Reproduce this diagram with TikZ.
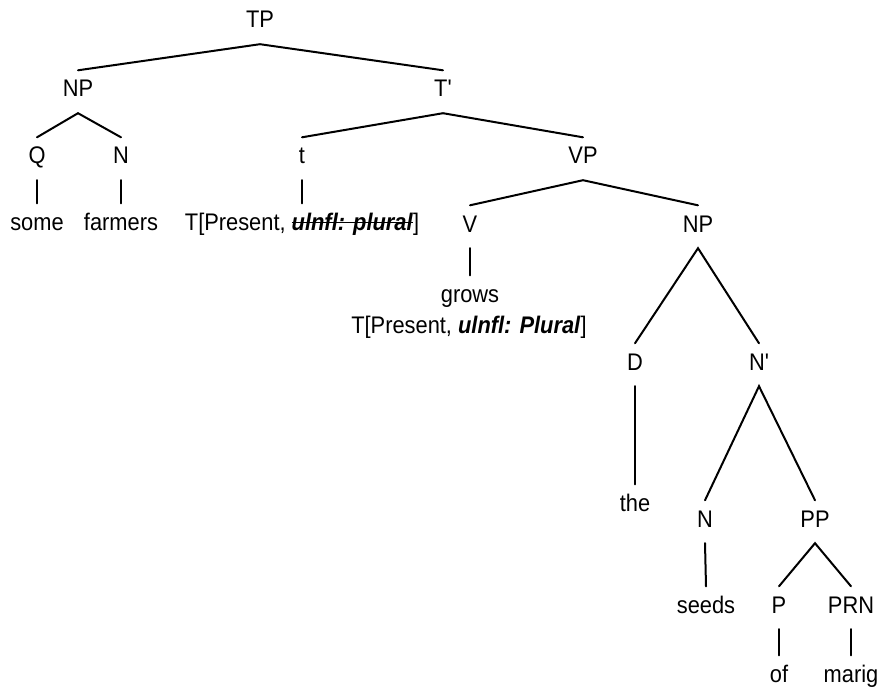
\documentclass[tikz,border=0pt]{standalone}
\usepackage{fontspec}
\setmainfont{Liberation Sans}[FakeStretch=0.91]
% same face without TeX ligature mapping, for a straight prime
\newfontfamily\primefont{Liberation Sans}[FakeStretch=0.91]
% strike-through of a piece of text
\newsavebox{\strikebox}
\newcommand{\strikeout}[1]{\sbox{\strikebox}{#1}%
  \rlap{\raisebox{0.28em}{\rule{\wd\strikebox}{1.6pt}}}\usebox{\strikebox}}
% straight prime for bar levels
\newcommand{\barmark}{{\primefont'}}
\begin{document}
\begin{tikzpicture}[x=1pt,y=-1pt,
  lab/.style={anchor=base, inner xsep=0pt, inner ysep=9pt,
    text height=17.5pt, text depth=7pt,
    font=\fontsize{24}{28}\selectfont},
  edge/.style={line width=2pt, line cap=round}]
\useasboundingbox (0,0) rectangle (884,690);
% constituent labels, placed by baseline
\node[lab] (tp)    at (260,28)  {TP};
\node[lab] (np1)   at (78,97)   {NP};
\node[lab] (tbar)  at (443,97)  {T\barmark};
\node[lab] (q)     at (37,164)  {Q};
\node[lab] (n1)    at (121,164) {N};
\node[lab] (t)     at (302,164) {t};
\node[lab] (vp)    at (583,164) {VP};
\node[lab] (some)  at (37,230)  {some};
\node[lab] (farm)  at (121,230) {farmers};
\node[lab] (tpl)   at (302,230) {T[Present, \strikeout{\textbf{\textit{ulnfl: plural}}}]};
\node[lab] (v)     at (470,232) {V};
\node[lab] (np2)   at (698,232) {NP};
\node[lab] (grows) at (470,302) {grows};
\node[lab] (tpr)   at (469,333) {T[Present, \textbf{\textit{ulnfl: Plural}}]};
\node[lab] (d)     at (635,370) {D};
\node[lab] (nbar)  at (759,370) {N\barmark};
\node[lab] (the)   at (635,511) {the};
\node[lab] (n3)    at (705,527) {N};
\node[lab] (pp)    at (815,527) {PP};
\node[lab] (seeds) at (706,613) {seeds};
\node[lab] (p)     at (779,613) {P};
\node[lab] (prn)   at (851,613) {PRN};
\node[lab] (of)    at (779,682) {of};
\node[lab] (marig) at (851,682) {marig};
% branches
\draw[edge] (np1.north) -- (tp.south) -- (tbar.north);
\draw[edge] (q.north) -- (np1.south) -- (n1.north);
\draw[edge] (t.north) -- (tbar.south) -- (vp.north);
\draw[edge] (v.north) -- (vp.south) -- (np2.north);
\draw[edge] (d.north) -- (np2.south) -- (nbar.north);
\draw[edge] (n3.north) -- (nbar.south) -- (pp.north);
\draw[edge] (p.north) -- (pp.south) -- (prn.north);
\draw[edge] (q.south) -- (some.north);
\draw[edge] (n1.south) -- (farm.north);
\draw[edge] (t.south) -- (tpl.north);
\draw[edge] (v.south) -- (grows.north);
\draw[edge] (d.south) -- (the.north);
\draw[edge] (n3.south) -- (seeds.north);
\draw[edge] (p.south) -- (of.north);
\draw[edge] (prn.south) -- (marig.north);
\end{tikzpicture}
\end{document}
